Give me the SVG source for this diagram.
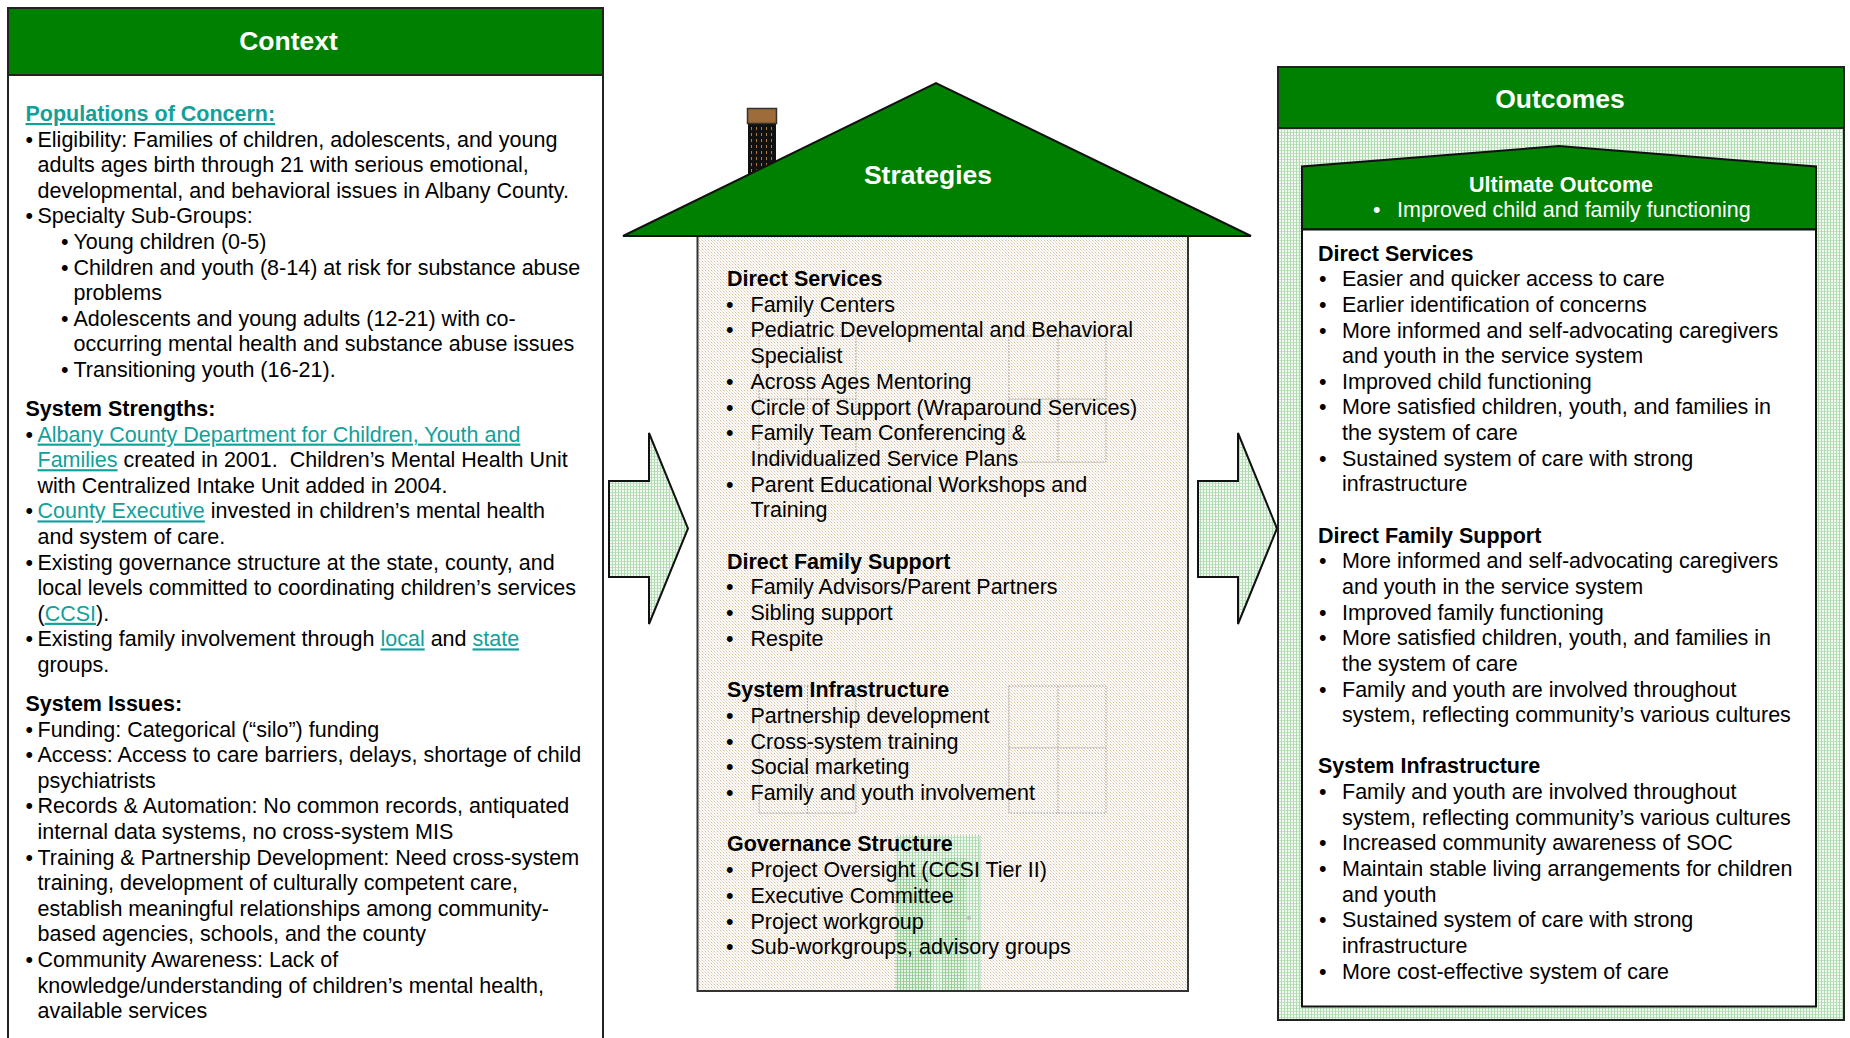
<svg xmlns="http://www.w3.org/2000/svg" width="1850" height="1038" viewBox="0 0 1850 1038">
<defs>
<style>
.t{font-family:"Liberation Sans",Arial,sans-serif;font-size:21.5px;fill:#000}
.b{font-weight:bold}
.ttl{font-family:"Liberation Sans",Arial,sans-serif;font-size:26.5px;font-weight:bold;fill:#fff}
.lnk{fill:#12A09A;text-decoration:underline}
.w{fill:#fff}
.box{stroke:#222;stroke-width:2}
.win{fill:none;stroke:#9a9a9a;stroke-width:1;stroke-dasharray:1.5 1.5}
</style>
<pattern id="gdots" width="3" height="3" patternUnits="userSpaceOnUse">
<rect width="3" height="3" fill="#f2f9f2"/>
<rect width="3" height="1" fill="#bfe2bf"/>
<rect width="1" height="3" fill="#b0dab0"/>
</pattern>
<pattern id="ddots" width="3" height="3" patternUnits="userSpaceOnUse">
<rect width="3" height="3" fill="#e4f2e4"/>
<rect width="3" height="1" fill="#9fd19f"/>
<rect width="1" height="3" fill="#8fc98f"/>
</pattern>
<pattern id="tdots" width="3" height="3" patternUnits="userSpaceOnUse">
<rect width="3" height="3" fill="#fdfcfa"/>
<rect width="1" height="1" fill="#d8bd98"/>
<rect x="1" y="1" width="1" height="1" fill="#e4e2de"/>
<rect x="2" y="2" width="1" height="1" fill="#ece3d6"/>
</pattern>
<pattern id="brick" width="5" height="6" patternUnits="userSpaceOnUse">
<rect width="5" height="6" fill="#111"/>
<rect x="1" y="1" width="1" height="3" fill="#b07a3a"/>
</pattern>
</defs>
<rect width="1850" height="1038" fill="#fff"/>

<g id="connectors">
<polygon points="609,481 649,481 649,433 688,528.5 649,624 649,577 609,577" fill="url(#gdots)" stroke="#111" stroke-width="2"/>
<polygon points="1198,481 1238,481 1238,433 1277,528.5 1238,624 1238,577 1198,577" fill="url(#gdots)" stroke="#111" stroke-width="2"/>
</g>

<g id="context">
<rect x="8" y="8" width="595" height="1045" fill="#fff" class="box"/>
<rect x="8" y="8" width="595" height="67" fill="#008000" class="box"/>
<text class="ttl" x="288.5" y="50" text-anchor="middle">Context</text>
<text class="t b lnk" x="25.5" y="121">Populations of Concern:</text>
<g class="t">
<text class="t" x="25.5" y="146.6">•</text>
<text class="t" x="37.5" y="146.6">Eligibility: Families of children, adolescents, and young</text>
<text class="t" x="37.5" y="172.2">adults ages birth through 21 with serious emotional,</text>
<text class="t" x="37.5" y="197.8">developmental, and behavioral issues in Albany County.</text>
<text class="t" x="25.5" y="223.4">•</text>
<text class="t" x="37.5" y="223.4">Specialty Sub-Groups:</text>
<text class="t" x="61" y="249">•</text>
<text class="t" x="73.5" y="249">Young children (0-5)</text>
<text class="t" x="61" y="274.6">•</text>
<text class="t" x="73.5" y="274.6">Children and youth (8-14) at risk for substance abuse</text>
<text class="t" x="73.5" y="300.2">problems</text>
<text class="t" x="61" y="325.8">•</text>
<text class="t" x="73.5" y="325.8">Adolescents and young adults (12-21) with co-</text>
<text class="t" x="73.5" y="351.4">occurring mental health and substance abuse issues</text>
<text class="t" x="61" y="377">•</text>
<text class="t" x="73.5" y="377">Transitioning youth (16-21).</text>
<text class="t b" x="25.5" y="416">System Strengths:</text>
<text class="t" x="25.5" y="441.6">•</text>
<text class="t" x="37.5" y="441.6"><tspan class="lnk">Albany County Department for Children, Youth and</tspan></text>
<text class="t" x="37.5" y="467.2" xml:space="preserve"><tspan class="lnk">Families</tspan> created in 2001.  Children’s Mental Health Unit</text>
<text class="t" x="37.5" y="492.8">with Centralized Intake Unit added in 2004.</text>
<text class="t" x="25.5" y="518.4">•</text>
<text class="t" x="37.5" y="518.4" xml:space="preserve"><tspan class="lnk">County Executive</tspan> invested in children’s mental health</text>
<text class="t" x="37.5" y="544">and system of care.</text>
<text class="t" x="25.5" y="569.6">•</text>
<text class="t" x="37.5" y="569.6">Existing governance structure at the state, county, and</text>
<text class="t" x="37.5" y="595.2">local levels committed to coordinating children’s services</text>
<text class="t" x="37.5" y="620.8">(<tspan class="lnk">CCSI</tspan>).</text>
<text class="t" x="25.5" y="646.4">•</text>
<text class="t" x="37.5" y="646.4" xml:space="preserve">Existing family involvement through <tspan class="lnk">local</tspan> and <tspan class="lnk">state</tspan></text>
<text class="t" x="37.5" y="672">groups.</text>
<text class="t b" x="25.5" y="711">System Issues:</text>
<text class="t" x="25.5" y="736.6">•</text>
<text class="t" x="37.5" y="736.6">Funding: Categorical (“silo”) funding</text>
<text class="t" x="25.5" y="762.2">•</text>
<text class="t" x="37.5" y="762.2">Access: Access to care barriers, delays, shortage of child</text>
<text class="t" x="37.5" y="787.8">psychiatrists</text>
<text class="t" x="25.5" y="813.4">•</text>
<text class="t" x="37.5" y="813.4">Records &amp; Automation: No common records, antiquated</text>
<text class="t" x="37.5" y="839">internal data systems, no cross-system MIS</text>
<text class="t" x="25.5" y="864.6">•</text>
<text class="t" x="37.5" y="864.6">Training &amp; Partnership Development: Need cross-system</text>
<text class="t" x="37.5" y="890.2">training, development of culturally competent care,</text>
<text class="t" x="37.5" y="915.8">establish meaningful relationships among community-</text>
<text class="t" x="37.5" y="941.4">based agencies, schools, and the county</text>
<text class="t" x="25.5" y="967">•</text>
<text class="t" x="37.5" y="967">Community Awareness: Lack of</text>
<text class="t" x="37.5" y="992.6">knowledge/understanding of children’s mental health,</text>
<text class="t" x="37.5" y="1018.2">available services</text>
</g>
</g>

<g id="strategies">
<rect x="748" y="123" width="28" height="62" fill="url(#brick)"/>
<rect x="747.5" y="108.5" width="29" height="15" fill="#9E6B3A" stroke="#333" stroke-width="1.5"/>
<rect x="697.5" y="236" width="490.5" height="755" fill="url(#tdots)" stroke="#333" stroke-width="2"/>
<g id="windows">
<rect class="win" x="759" y="336" width="97" height="126"/>
<line class="win" x1="807.5" y1="336" x2="807.5" y2="462"/>
<line class="win" x1="759" y1="399" x2="856" y2="399"/>
<rect class="win" x="1009" y="336" width="97" height="126"/>
<line class="win" x1="1058" y1="336" x2="1058" y2="462"/>
<line class="win" x1="1009" y1="399" x2="1106" y2="399"/>
<rect class="win" x="759" y="686" width="97" height="127"/>
<line class="win" x1="807.5" y1="686" x2="807.5" y2="813"/>
<line class="win" x1="759" y1="748" x2="856" y2="748"/>
<rect class="win" x="1009" y="686" width="97" height="127"/>
<line class="win" x1="1058" y1="686" x2="1058" y2="813"/>
<line class="win" x1="1009" y1="748" x2="1106" y2="748"/>
</g>
<g id="door">
<rect x="895" y="835" width="85" height="155" fill="url(#gdots)"/>
<rect x="895" y="872" width="37" height="118" fill="url(#ddots)" opacity="0.8"/>
<rect x="942" y="858" width="24" height="132" fill="url(#ddots)" opacity="0.7"/>
<line x1="980" y1="835" x2="980" y2="990" stroke="#b5d9b5" stroke-width="1"/>
<circle cx="969" cy="918" r="2" fill="#bbb"/>
</g>
<polygon points="623,236 936,83 1251,236" fill="#008000" stroke="#111" stroke-width="2" stroke-linejoin="miter"/>
<text class="ttl" x="928" y="183.5" text-anchor="middle">Strategies</text>
<g class="t">
<text class="t b" x="727" y="286">Direct Services</text>
<text class="t" x="726" y="311.7">•</text><text class="t" x="750.5" y="311.7">Family Centers</text>
<text class="t" x="726" y="337.4">•</text><text class="t" x="750.5" y="337.4">Pediatric Developmental and Behavioral</text>
<text class="t" x="750.5" y="363.1">Specialist</text>
<text class="t" x="726" y="388.8">•</text><text class="t" x="750.5" y="388.8">Across Ages Mentoring</text>
<text class="t" x="726" y="414.5">•</text><text class="t" x="750.5" y="414.5">Circle of Support (Wraparound Services)</text>
<text class="t" x="726" y="440.2">•</text><text class="t" x="750.5" y="440.2">Family Team Conferencing &amp;</text>
<text class="t" x="750.5" y="465.9">Individualized Service Plans</text>
<text class="t" x="726" y="491.6">•</text><text class="t" x="750.5" y="491.6">Parent Educational Workshops and</text>
<text class="t" x="750.5" y="517.3">Training</text>
<text class="t b" x="727" y="568.7">Direct Family Support</text>
<text class="t" x="726" y="594.4">•</text><text class="t" x="750.5" y="594.4">Family Advisors/Parent Partners</text>
<text class="t" x="726" y="620.1">•</text><text class="t" x="750.5" y="620.1">Sibling support</text>
<text class="t" x="726" y="645.8">•</text><text class="t" x="750.5" y="645.8">Respite</text>
<text class="t b" x="727" y="697.2">System Infrastructure</text>
<text class="t" x="726" y="722.9">•</text><text class="t" x="750.5" y="722.9">Partnership development</text>
<text class="t" x="726" y="748.6">•</text><text class="t" x="750.5" y="748.6">Cross-system training</text>
<text class="t" x="726" y="774.3">•</text><text class="t" x="750.5" y="774.3">Social marketing</text>
<text class="t" x="726" y="800">•</text><text class="t" x="750.5" y="800">Family and youth involvement</text>
<text class="t b" x="727" y="851.4">Governance Structure</text>
<text class="t" x="726" y="877.1">•</text><text class="t" x="750.5" y="877.1">Project Oversight (CCSI Tier II)</text>
<text class="t" x="726" y="902.8">•</text><text class="t" x="750.5" y="902.8">Executive Committee</text>
<text class="t" x="726" y="928.5">•</text><text class="t" x="750.5" y="928.5">Project workgroup</text>
<text class="t" x="726" y="954.2">•</text><text class="t" x="750.5" y="954.2">Sub-workgroups, advisory groups</text>
</g>
</g>

<g id="outcomes">
<rect x="1278" y="67" width="566" height="953" fill="url(#gdots)" class="box"/>
<rect x="1278" y="67" width="566" height="61" fill="#008000" class="box"/>
<text class="ttl" x="1560" y="108.3" text-anchor="middle">Outcomes</text>
<polygon points="1302,229.5 1302,166.5 1559,146 1816,166.5 1816,229.5" fill="#008000" stroke="#111" stroke-width="2"/>
<rect x="1302" y="229.5" width="514" height="777" fill="#fff" stroke="#111" stroke-width="2"/>
<text class="t b w" x="1561" y="191.7" text-anchor="middle">Ultimate Outcome</text>
<text class="t w" x="1373" y="216.7">•</text>
<text class="t w" x="1397" y="216.7">Improved child and family functioning</text>
<g class="t">
<text class="t b" x="1318" y="260.5">Direct Services</text>
<text class="t" x="1319" y="286.2">•</text><text class="t" x="1342" y="286.2">Easier and quicker access to care</text>
<text class="t" x="1319" y="311.8">•</text><text class="t" x="1342" y="311.8">Earlier identification of concerns</text>
<text class="t" x="1319" y="337.5">•</text><text class="t" x="1342" y="337.5">More informed and self-advocating caregivers</text>
<text class="t" x="1342" y="363.1">and youth in the service system</text>
<text class="t" x="1319" y="388.8">•</text><text class="t" x="1342" y="388.8">Improved child functioning</text>
<text class="t" x="1319" y="414.4">•</text><text class="t" x="1342" y="414.4">More satisfied children, youth, and families in</text>
<text class="t" x="1342" y="440.1">the system of care</text>
<text class="t" x="1319" y="465.7">•</text><text class="t" x="1342" y="465.7">Sustained system of care with strong</text>
<text class="t" x="1342" y="491.4">infrastructure</text>
<text class="t b" x="1318" y="542.6">Direct Family Support</text>
<text class="t" x="1319" y="568.3">•</text><text class="t" x="1342" y="568.3">More informed and self-advocating caregivers</text>
<text class="t" x="1342" y="594">and youth in the service system</text>
<text class="t" x="1319" y="619.6">•</text><text class="t" x="1342" y="619.6">Improved family functioning</text>
<text class="t" x="1319" y="645.3">•</text><text class="t" x="1342" y="645.3">More satisfied children, youth, and families in</text>
<text class="t" x="1342" y="670.9">the system of care</text>
<text class="t" x="1319" y="696.6">•</text><text class="t" x="1342" y="696.6">Family and youth are involved throughout</text>
<text class="t" x="1342" y="722.2">system, reflecting community’s various cultures</text>
<text class="t b" x="1318" y="773.3">System Infrastructure</text>
<text class="t" x="1319" y="799">•</text><text class="t" x="1342" y="799">Family and youth are involved throughout</text>
<text class="t" x="1342" y="824.6">system, reflecting community’s various cultures</text>
<text class="t" x="1319" y="850.3">•</text><text class="t" x="1342" y="850.3">Increased community awareness of SOC</text>
<text class="t" x="1319" y="875.9">•</text><text class="t" x="1342" y="875.9">Maintain stable living arrangements for children</text>
<text class="t" x="1342" y="901.6">and youth</text>
<text class="t" x="1319" y="927.2">•</text><text class="t" x="1342" y="927.2">Sustained system of care with strong</text>
<text class="t" x="1342" y="952.9">infrastructure</text>
<text class="t" x="1319" y="978.5">•</text><text class="t" x="1342" y="978.5">More cost-effective system of care</text>
</g>
</g>
</svg>
